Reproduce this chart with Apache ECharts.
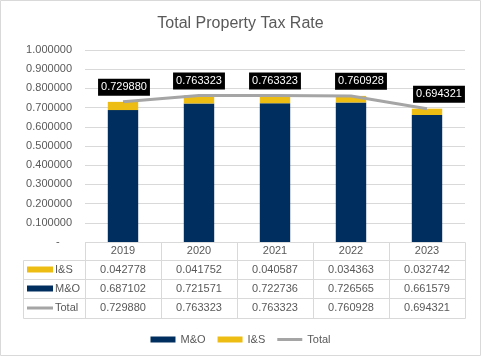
<!DOCTYPE html>
<html><head><meta charset="utf-8">
<script src="https://cdn.jsdelivr.net/npm/echarts@6/dist/echarts.min.js"></script>
<style>html,body{margin:0;padding:0;background:#fff}#c{width:481px;height:356px}</style>
</head><body><div id="c"></div>
<script>
const chartTitle = 'Total Property Tax Rate';
const categories = ['2019', '2020', '2021', '2022', '2023'];
const moValues = [0.687102, 0.721571, 0.722736, 0.726565, 0.661579];
const isValues = [0.042778, 0.041752, 0.040587, 0.034363, 0.032742];
const totalValues = [0.729880, 0.763323, 0.763323, 0.760928, 0.694321];
const tableRows = [
  { name: 'I&S', values: isValues },
  { name: 'M&O', values: moValues },
  { name: 'Total', values: totalValues }
];

const FONT = '"Liberation Sans", Arial, sans-serif';
const TXT = '#595959';
const LINEC = '#d9d9d9';
const MO_C = '#002f5f', IS_C = '#edbd14', TOT_C = '#a5a5a5';
const rowColors = { 'I&S': IS_C, 'M&O': MO_C, 'Total': TOT_C };
const labelShift = [1, 0, 0, 10, 12];

const chart = echarts.init(document.getElementById('c'), null, { renderer: 'canvas' });
const option = {
  animation: false,
  title: { text: chartTitle, left: 'center', top: 11,
    textStyle: { fontFamily: FONT, fontSize: 16, fontWeight: 'normal', color: TXT } },
  grid: { left: 85, right: 16, top: 50, bottom: 114 },
  xAxis: { type: 'category', data: categories,
    axisLine: { show: false }, axisTick: { show: false }, axisLabel: { show: false } },
  yAxis: { type: 'value', min: 0, max: 1, interval: 0.1,
    axisLine: { show: false }, axisTick: { show: false },
    splitLine: { lineStyle: { color: LINEC, width: 1 } },
    axisLabel: { fontFamily: FONT, fontSize: 11, color: TXT, margin: 13,
      formatter: v => (Math.abs(v) < 1e-9 ? '-    ' : v.toFixed(6)) } },
  legend: { top: 329, left: 'center', itemWidth: 25, itemHeight: 6, itemGap: 12,
    textStyle: { fontFamily: FONT, fontSize: 11, color: TXT },
    data: [
      { name: 'M&O', icon: 'rect' },
      { name: 'I&S', icon: 'rect' },
      { name: 'Total', icon: 'path://M0,0 L25,0 L25,3 L0,3 Z' }
    ] },
  series: [
    { name: 'M&O', type: 'bar', stack: 'tot', data: moValues, barWidth: '40%',
      itemStyle: { color: MO_C } },
    { name: 'I&S', type: 'bar', stack: 'tot', data: isValues, barWidth: '40%',
      itemStyle: { color: IS_C } },
    { name: 'Total', type: 'line', symbol: 'circle', symbolSize: 0.1, showSymbol: true,
      data: totalValues.map((v, i) => ({ value: v, label: { offset: [labelShift[i], 0] } })),
      lineStyle: { color: TOT_C, width: 3 }, itemStyle: { color: TOT_C },
      label: { show: true, position: 'top', distance: 6,
        formatter: p => p.value.toFixed(6),
        backgroundColor: '#000', color: '#fff', padding: [2, 3], lineHeight: 13,
        fontSize: 11, fontFamily: FONT } }
  ]
};
chart.setOption(option);

// Data table below the plot, positioned from the axis scales
function buildTable() {
  const c0 = chart.convertToPixel({ xAxisIndex: 0 }, 0);
  const c1 = chart.convertToPixel({ xAxisIndex: 0 }, 1);
  const band = c1 - c0;
  const top = chart.convertToPixel({ yAxisIndex: 0 }, 0);
  const leftCol = 23;
  const plotL = c0 - band / 2;
  const plotR = plotL + band * categories.length;
  const rowH = [18, 19, 19, 20];
  const ys = [top];
  rowH.forEach(h => ys.push(ys[ys.length - 1] + h));
  const px = v => Math.round(v) + 0.5;
  const els = [];
  const ln = (x1, y1, x2, y2) => els.push({ type: 'line',
    shape: { x1, y1, x2, y2 }, style: { stroke: LINEC, lineWidth: 1 }, silent: true });
  ln(px(plotL), px(ys[0]), px(plotR), px(ys[0]));
  for (let r = 1; r < ys.length; r++) ln(px(leftCol), px(ys[r]), px(plotR), px(ys[r]));
  ln(px(leftCol), px(ys[1]), px(leftCol), px(ys[4]));
  for (let i = 0; i <= categories.length; i++) {
    const x = px(plotL + band * i);
    ln(x, px(ys[0]), x, px(ys[4]));
  }
  const txt = (x, y, s, align) => els.push({ type: 'text', x, y, silent: true,
    style: { text: s, fill: TXT, font: '11px ' + FONT, align: align || 'center', verticalAlign: 'middle' } });
  categories.forEach((c, i) => txt(c0 + band * i, (ys[0] + ys[1]) / 2, c));
  tableRows.forEach((row, r) => {
    const yc = (ys[r + 1] + ys[r + 2]) / 2;
    if (row.name === 'Total') {
      els.push({ type: 'line', shape: { x1: 27, y1: yc, x2: 53, y2: yc },
        style: { stroke: TOT_C, lineWidth: 3 }, silent: true });
    } else {
      els.push({ type: 'rect', shape: { x: 27, y: yc - 3, width: 26, height: 6 },
        style: { fill: rowColors[row.name] }, silent: true });
    }
    txt(55, yc, row.name, 'left');
    row.values.forEach((v, i) => txt(c0 + band * i, yc, v.toFixed(6)));
  });
  els.push({ type: 'rect', shape: { x: 0.5, y: 0.5, width: 480, height: 355 },
    style: { fill: 'none', stroke: LINEC, lineWidth: 1 }, silent: true });
  chart.setOption({ graphic: [{ type: 'group', children: els }] });
}
buildTable();
</script>
</body></html>
